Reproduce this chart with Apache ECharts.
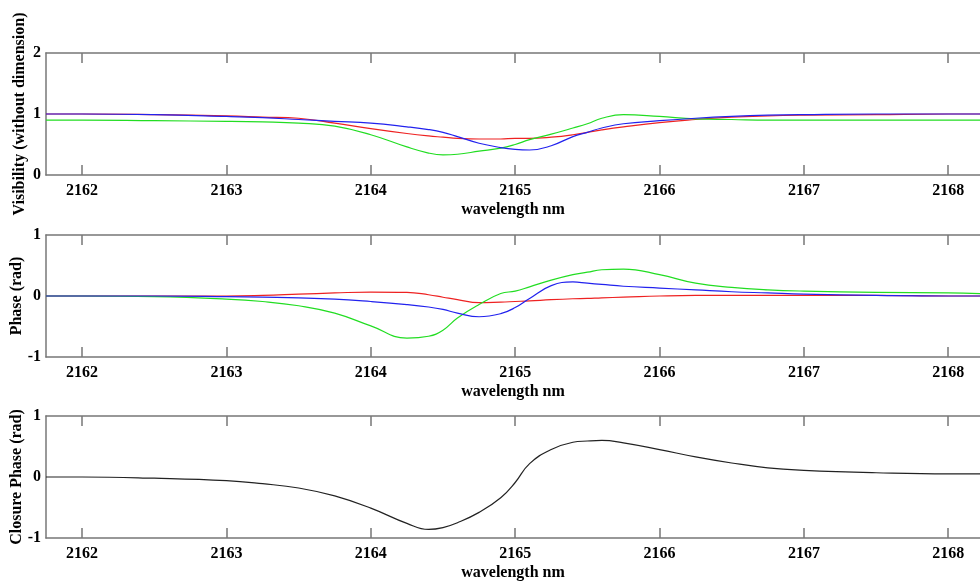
<!DOCTYPE html>
<html>
<head>
<meta charset="utf-8">
<script src="https://cdn.jsdelivr.net/npm/echarts@6/dist/echarts.min.js"></script>
<style>html,body{margin:0;padding:0;background:#fff}#c{width:980px;height:581px}</style>
</head>
<body>
<div id="c"></div>
<script>
// wavelength samples (nm)
const wavelength = [2161.75, 2162, 2162.5, 2163, 2163.25, 2163.5, 2163.75, 2164, 2164.25, 2164.4, 2164.5, 2164.6, 2164.75, 2164.9, 2165, 2165.1, 2165.25, 2165.4, 2165.5, 2165.6, 2165.75, 2166, 2166.25, 2166.5, 2166.75, 2167, 2167.5, 2168, 2168.22];
const xTicks = [2162, 2163, 2164, 2165, 2166, 2167, 2168];

// Visibility
const visRed   = [1.0, 1.0, 0.99, 0.97, 0.95, 0.93, 0.85, 0.76, 0.68, 0.64, 0.62, 0.60, 0.59, 0.59, 0.60, 0.60, 0.62, 0.66, 0.70, 0.74, 0.79, 0.86, 0.91, 0.95, 0.97, 0.98, 0.99, 1.0, 1.0];
const visBlue  = [1.0, 1.0, 0.99, 0.96, 0.94, 0.91, 0.88, 0.85, 0.79, 0.745, 0.70, 0.63, 0.52, 0.45, 0.42, 0.41, 0.48, 0.63, 0.70, 0.77, 0.84, 0.89, 0.93, 0.96, 0.98, 0.99, 1.0, 1.0, 1.0];
const visGreen = [0.90, 0.90, 0.89, 0.88, 0.87, 0.85, 0.80, 0.66, 0.46, 0.36, 0.33, 0.34, 0.39, 0.44, 0.50, 0.58, 0.67, 0.77, 0.84, 0.93, 0.99, 0.96, 0.92, 0.91, 0.90, 0.90, 0.90, 0.90, 0.90];

// Phase
const phRed   = [0, 0, 0, 0, 0.01, 0.03, 0.05, 0.065, 0.06, 0.02, -0.02, -0.06, -0.11, -0.10, -0.09, -0.08, -0.06, -0.045, -0.04, -0.03, -0.02, 0.0, 0.01, 0.01, 0.01, 0.01, 0.01, 0.0, 0.0];
const phBlue  = [0, 0, 0, -0.01, -0.02, -0.03, -0.05, -0.09, -0.14, -0.18, -0.22, -0.28, -0.34, -0.29, -0.19, -0.04, 0.17, 0.23, 0.21, 0.19, 0.16, 0.13, 0.10, 0.07, 0.05, 0.03, 0.01, 0.0, 0.0];
const phGreen = [0, 0, -0.01, -0.05, -0.09, -0.16, -0.28, -0.49, -0.69, -0.66, -0.56, -0.36, -0.14, 0.04, 0.08, 0.15, 0.26, 0.35, 0.39, 0.43, 0.44, 0.35, 0.21, 0.14, 0.10, 0.08, 0.06, 0.05, 0.04];

// Closure phase
const closure = [0, 0, -0.02, -0.06, -0.11, -0.18, -0.31, -0.51, -0.76, -0.86, -0.83, -0.75, -0.58, -0.34, -0.09, 0.22, 0.45, 0.57, 0.59, 0.60, 0.56, 0.45, 0.33, 0.23, 0.15, 0.11, 0.07, 0.05, 0.05];

const yTitles = ['Visibility (without dimension)', 'Phase (rad)', 'Closure Phase (rad)'];
const xTitle = 'wavelength nm';

const FONT = 'Liberation Serif';
const AXIS_COLOR = '#777';
const XMIN = 2161.75, XMAX = 2168.22;
const tops = [53, 235, 416];
const H = 122;
const yNameGaps = [18, 21, 21];

const grids = [], xAxes = [], yAxes = [], series = [];
tops.forEach((t, i) => {
  grids.push({ left: 46, right: 0, top: t, height: H, containLabel: false, outerBoundsMode: 'none' });
  // bottom axis
  xAxes.push({
    type: 'value', gridIndex: i, min: XMIN, max: XMAX, position: 'bottom',
    name: xTitle, nameLocation: 'middle', nameGap: 27, nameMoveOverlap: false,
    nameTextStyle: { fontFamily: FONT, fontWeight: 'bold', fontSize: 16, color: '#000' },
    axisLine: { show: true, onZero: false, lineStyle: { color: AXIS_COLOR, width: 1.5 } },
    axisTick: { show: true, inside: true, length: 10, customValues: xTicks, lineStyle: { color: AXIS_COLOR, width: 1.5 } },
    axisLabel: { show: true, customValues: xTicks, margin: 8, fontFamily: FONT, fontWeight: 'bold', fontSize: 16, color: '#000', formatter: v => String(v) },
    splitLine: { show: false }
  });
  // top axis (box + ticks)
  xAxes.push({
    type: 'value', gridIndex: i, min: XMIN, max: XMAX, position: 'top',
    axisLine: { show: true, onZero: false, lineStyle: { color: AXIS_COLOR, width: 1.5 } },
    axisTick: { show: true, inside: true, length: 10, customValues: xTicks, lineStyle: { color: AXIS_COLOR, width: 1.5 } },
    axisLabel: { show: false },
    splitLine: { show: false }
  });
  const ymin = i === 0 ? 0 : -1, ymax = i === 0 ? 2 : 1;
  yAxes.push({
    type: 'value', gridIndex: i, min: ymin, max: ymax, interval: 1, position: 'left',
    name: yTitles[i], nameLocation: 'middle', nameGap: yNameGaps[i], nameRotate: 90, nameMoveOverlap: false,
    nameTextStyle: { fontFamily: FONT, fontWeight: 'bold', fontSize: 16, color: '#000' },
    axisLine: { show: true, onZero: false, lineStyle: { color: AXIS_COLOR, width: 1.5 } },
    axisTick: { show: false },
    axisLabel: { show: true, margin: 5, fontFamily: FONT, fontWeight: 'bold', fontSize: 16, color: '#000' },
    splitLine: { show: false }
  });
});

function mk(vals, color, gi) {
  return {
    type: 'line', xAxisIndex: gi * 2, yAxisIndex: gi,
    data: wavelength.map((w, k) => [w, vals[k]]),
    showSymbol: false, smooth: 0.45, clip: true,
    lineStyle: { color: color, width: 1.2 },
    itemStyle: { color: color },
    animation: false
  };
}
series.push(mk(visRed, '#ee2222', 0));
series.push(mk(visGreen, '#22dd22', 0));
series.push(mk(visBlue, '#2222ee', 0));
series.push(mk(phRed, '#ee2222', 1));
series.push(mk(phGreen, '#22dd22', 1));
series.push(mk(phBlue, '#2222ee', 1));
series.push(mk(closure, '#222222', 2));

const chart = echarts.init(document.getElementById('c'), null, { renderer: 'canvas' });
chart.setOption({
  animation: false,
  backgroundColor: '#fff',
  grid: grids, xAxis: xAxes, yAxis: yAxes, series: series
});
</script>
</body>
</html>
